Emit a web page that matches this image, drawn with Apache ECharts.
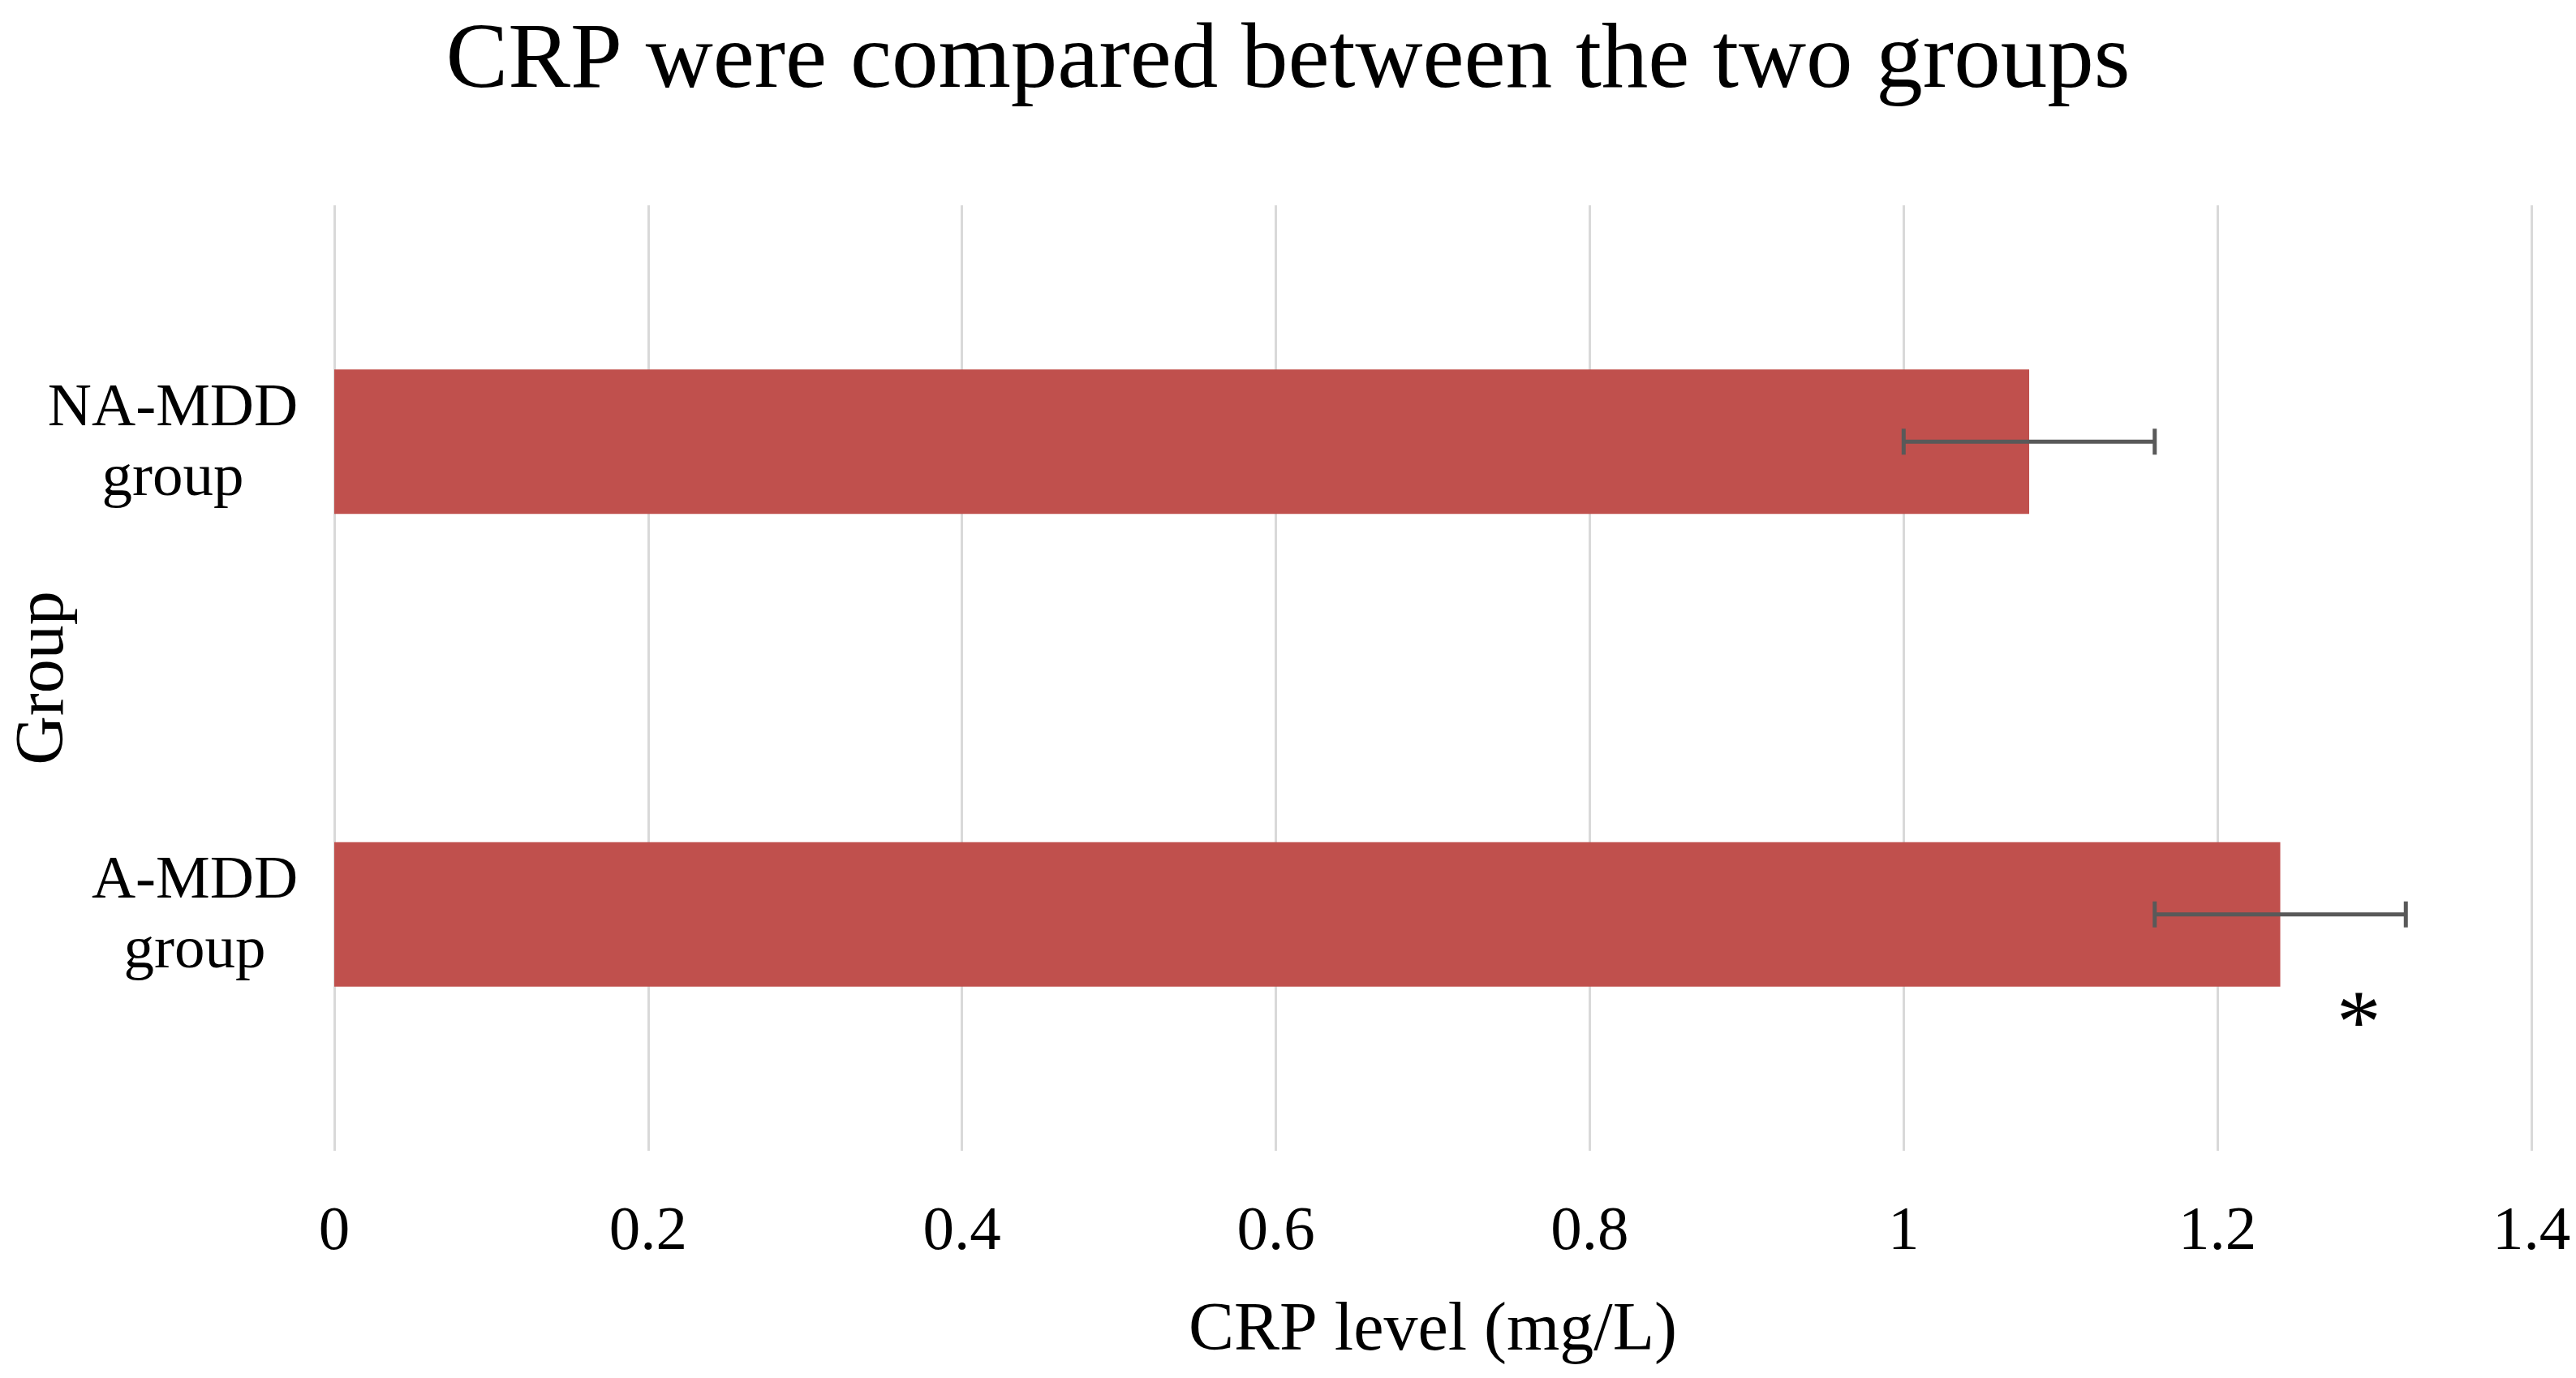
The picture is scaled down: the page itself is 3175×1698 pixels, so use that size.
<!DOCTYPE html>
<html>
<head>
<meta charset="utf-8">
<script src="https://cdn.jsdelivr.net/npm/echarts@6/dist/echarts.min.js"></script>
<style>
  html, body { margin: 0; padding: 0; background: #fff; }
  #chart { width: 3175px; height: 1698px; }
</style>
</head>
<body>
<div id="chart"></div>
<script>
// 数据（从下到上）
var groups = ['A-MDD group', 'NA-MDD group'];
var crpMean = [1.24, 1.08];
var crpErr = [0.08, 0.08];
var xTicks = [0, 0.2, 0.4, 0.6, 0.8, 1, 1.2, 1.4];
var sigMarks = [[1.29, 0, '*']]; // [x值, 组序号, 符号]

var font = 'Liberation Serif';
var myChart = echarts.init(document.getElementById('chart'));

var option = {
    backgroundColor: '#fff',
    animation: false,
    title: {
        text: 'CRP were compared between the two groups',
        left: 'center',
        top: 14,
        textStyle: { fontFamily: font, fontSize: 115, fontWeight: 'normal', color: '#000' }
    },
    grid: { left: 412, right: 55, top: 253, bottom: 280, outerBoundsMode: 'none', containLabel: false },
    xAxis: {
        type: 'value',
        min: xTicks[0],
        max: xTicks[xTicks.length - 1],
        interval: 0.2,
        name: 'CRP level (mg/L)',
        nameLocation: 'middle',
        nameGap: 181,
        nameMoveOverlap: false,
        nameTextStyle: { fontFamily: font, fontSize: 84, color: '#000' },
        axisLine: { show: false },
        axisTick: { show: false },
        axisLabel: {
            margin: 62,
            fontFamily: font, fontSize: 77, color: '#000',
            formatter: function (v) { return String(+v.toFixed(1)); }
        },
        splitLine: { show: true, lineStyle: { color: '#d9d9d9', width: 3 } }
    },
    yAxis: {
        type: 'category',
        data: groups,
        name: 'Group',
        nameLocation: 'middle',
        nameGap: 315,
        nameRotate: 90,
        nameMoveOverlap: false,
        nameTextStyle: { fontFamily: font, fontSize: 84, color: '#000' },
        axisLine: { show: false },
        axisTick: { show: false },
        axisLabel: {
            margin: 199,
            align: 'center',
            fontFamily: font, fontSize: 75, color: '#000',
            // Excel 样式：各行居中，整体右对齐
            formatter: function (v) {
                var parts = v.split(' ');
                var key = parts[0] === 'A-MDD' ? 'a' : 'n';
                return '{' + key + '|' + parts[0] + '}\n{' + key + '|' + parts[1] + '}';
            },
            rich: {
                n: { fontFamily: font, fontSize: 75, color: '#000', lineHeight: 86, padding: [6, 0, 0, 0] },
                a: { fontFamily: font, fontSize: 75, color: '#000', lineHeight: 86, padding: [6, 0, 0, 54] }
            }
        }
    },
    series: [{
        type: 'bar',
        data: crpMean,
        barWidth: 178,
        itemStyle: { color: '#C0504D' }
    }, {
        // 误差线
        type: 'custom',
        z: 5,
        data: crpMean.map(function (m, i) { return [i, m - crpErr[i], m + crpErr[i]]; }),
        encode: { x: [1, 2], y: 0 },
        renderItem: function (params, api) {
            var idx = api.value(0);
            var lo = api.coord([api.value(1), idx]);
            var hi = api.coord([api.value(2), idx]);
            var h = 16;
            var st = { stroke: '#595959', lineWidth: 5 };
            return {
                type: 'group',
                children: [
                    { type: 'line', shape: { x1: lo[0], y1: lo[1], x2: hi[0], y2: hi[1] }, style: st },
                    { type: 'line', shape: { x1: lo[0], y1: lo[1] - h, x2: lo[0], y2: lo[1] + h }, style: st },
                    { type: 'line', shape: { x1: hi[0], y1: hi[1] - h, x2: hi[0], y2: hi[1] + h }, style: st }
                ]
            };
        }
    }, {
        // 显著性标记
        type: 'custom',
        z: 6,
        data: sigMarks,
        encode: { x: 0, y: 1 },
        renderItem: function (params, api) {
            var p = api.coord([api.value(0), api.value(1)]);
            return {
                type: 'text',
                x: p[0],
                y: p[1] + 140,
                style: {
                    text: sigMarks[params.dataIndex][2],
                    fontFamily: font, fontSize: 110, fill: '#000',
                    align: 'center', verticalAlign: 'middle'
                }
            };
        }
    }]
};

myChart.setOption(option);
window.addEventListener('resize', function () {
    myChart.resize();
});
</script>
</body>
</html>
